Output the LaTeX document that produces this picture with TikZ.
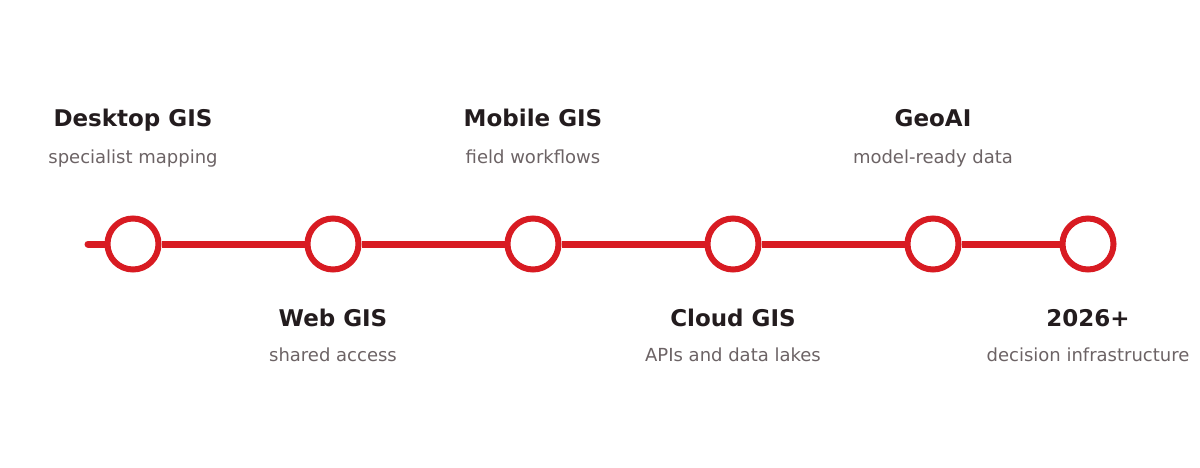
\documentclass[tikz,border=0pt]{standalone}
\usepackage{fontspec}
\setmainfont{DejaVu Sans}
\definecolor{tlred}{RGB}{216,27,34}
\definecolor{tltitle}{RGB}{35,28,30}
\definecolor{tlsub}{RGB}{108,99,101}
\begin{document}
\begin{tikzpicture}[x=1pt,y=1pt,
  milestone/.style={circle,draw=tlred,fill=white,line width=6pt,minimum size=51pt,inner sep=0pt},
  track/.style={draw=tlred,line width=7pt},
  ttl/.style={anchor=base,text=tltitle,font=\fontsize{23}{27}\selectfont\bfseries,inner sep=0pt},
  sub/.style={anchor=base,text=tlsub,font=\fontsize{18}{21}\selectfont,inner sep=0pt}]
\useasboundingbox (0,0) rectangle (1200,-467);
\coordinate (start) at (88,-244);
\node[milestone] (c1) at (133,-244) {};
\node[milestone] (c2) at (333,-244) {};
\node[milestone] (c3) at (533,-244) {};
\node[milestone] (c4) at (733,-244) {};
\node[milestone] (c5) at (933,-244) {};
\node[milestone] (c6) at (1088,-244) {};
\draw[track,line cap=round] (start) -- (c1.west);
\draw[track] (c1.east) -- (c2.west);
\draw[track] (c2.east) -- (c3.west);
\draw[track] (c3.east) -- (c4.west);
\draw[track] (c4.east) -- (c5.west);
\draw[track] (c5.east) -- (c6.west);
\node[ttl] (t1) at (133,-126) {Desktop GIS};
\node[sub] (s1) at (133,-163) {specialist mapping};
\node[ttl] (t3) at (533,-126) {Mobile GIS};
\node[sub] (s3) at (533,-163) {field workflows};
\node[ttl] (t5) at (933,-126) {GeoAI};
\node[sub] (s5) at (933,-163) {model-ready data};
\node[ttl] (t2) at (333,-326) {Web GIS};
\node[sub] (s2) at (333,-361) {shared access};
\node[ttl] (t4) at (733,-326) {Cloud GIS};
\node[sub] (s4) at (733,-361) {APIs and data lakes};
\node[ttl] (t6) at (1088,-326) {2026+};
\node[sub] (s6) at (1088,-361) {decision infrastructure};
\end{tikzpicture}
\end{document}
